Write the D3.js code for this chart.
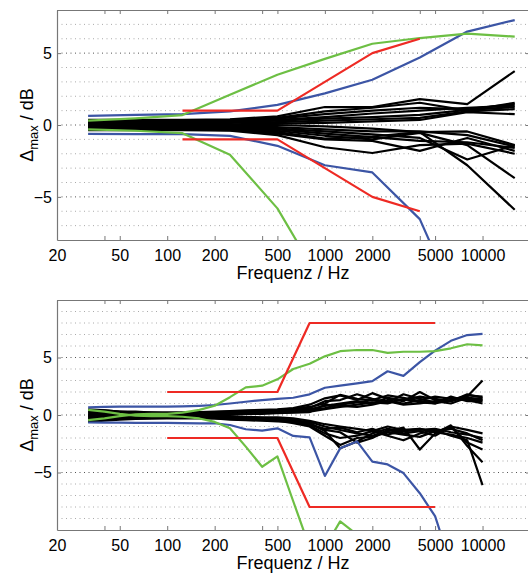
<!DOCTYPE html>
<html>
<head>
<meta charset="utf-8">
<script src="https://cdn.jsdelivr.net/npm/d3@7"></script>
<style>
  body { margin: 0; background: #fff; }
  text { font-family: "Liberation Sans", Arial, Helvetica, sans-serif; }
</style>
</head>
<body>
<svg id="chart" width="528" height="574"></svg>
<script>
// ---- data ----

// octave bands (upper panel)
var octFreqs = [31.5, 63, 125, 250, 500, 1000, 2000, 4000, 8000, 16000];
// third octave bands (lower panel)
var thirdFreqs = [31.5, 40, 50, 63, 80, 100, 125, 160, 200, 250, 315, 400, 500,
                  630, 800, 1000, 1250, 1600, 2000, 2500, 3150, 4000, 5000, 6300, 8000, 10000];

var xTickVals = [20, 40, 50, 100, 200, 400, 500, 1000, 2000, 4000, 5000, 10000];
var xLabelVals = [20, 50, 100, 200, 500, 1000, 2000, 5000, 10000];
var yLabelVals = [-5, 0, 5];

// upper panel: tolerance (red), blue, green
var redTopFreqs = [125, 250, 500, 1000, 2000, 4000];
var redTopUpper = [1, 1, 1, 3, 5, 6];
var redTopLower = [-1, -1, -1, -3, -5, -6];
var blueTopUpper = [0.64, 0.7, 0.76, 0.95, 1.4, 2.2, 3.15, 4.7, 6.5, 7.3];
var blueTopLower = [-0.62, -0.63, -0.64, -0.76, -1.45, -2.8, -3.3, -6.55, -14];
var greenTopUpper = [0.3, 0.46, 0.69, 2.1, 3.5, 4.6, 5.65, 6.05, 6.35, 6.15];
var greenTopLower = [-0.3, -0.4, -0.57, -2.07, -5.8, -11.4];

// upper panel: black curves
var blackTop = [
  [0.35, 0.35, 0.35, 0.4, 0.6, 1.25, 1.25, 1.8, 1.45, 3.75],
  [0.3, 0.3, 0.3, 0.35, 0.5, 0.95, 1.2, 1.55, 1.0, 1.55],
  [0.25, 0.25, 0.25, 0.3, 0.45, 0.75, 1.0, 1.2, 1.1, 1.45],
  [0.2, 0.2, 0.2, 0.25, 0.35, 0.55, 0.8, 1.0, 1.2, 1.35],
  [0.15, 0.15, 0.15, 0.2, 0.3, 0.45, 0.55, 0.7, 1.05, 1.25],
  [0.1, 0.1, 0.1, 0.15, 0.2, 0.3, 0.4, 0.5, 0.95, 1.1],
  [0.05, 0.05, 0.05, 0.05, 0.1, 0.15, 0.25, 0.35, 0.9, 0.75],
  [0, 0, 0, 0, 0, -0.1, -0.25, -0.5, -0.45, -1.4],
  [-0.05, -0.05, -0.05, -0.1, -0.15, -0.3, -0.45, -0.45, -0.7, -1.5],
  [-0.1, -0.1, -0.1, -0.15, -0.25, -0.45, -0.65, -0.9, -2.4, -1.4],
  [-0.15, -0.15, -0.15, -0.2, -0.3, -0.6, -0.85, -1.1, -1.2, -1.6],
  [-0.2, -0.2, -0.2, -0.25, -0.4, -0.75, -1.0, -0.55, -1.4, -3.7],
  [-0.25, -0.25, -0.25, -0.3, -0.5, -0.95, -0.8, -0.5, -2.8, -5.9],
  [-0.3, -0.3, -0.3, -0.35, -0.6, -1.0, -1.1, -1.8, -0.9, -1.8],
  [-0.35, -0.35, -0.35, -0.4, -0.7, -1.55, -1.95, -1.4, -1.3, -2.0]
];

// lower panel: tolerance (red), blue, green
var redBotFreqs = [100, 500, 800, 5000];
var redBotUpper = [2, 2, 8, 8];
var redBotLower = [-2, -2, -8, -8];
var blueBotUpper = [0.67, 0.7, 0.72, 0.72, 0.72, 0.72, 0.75, 0.8, 0.87, 1.0, 1.15, 1.3, 1.4,
                    1.5, 1.8, 2.37, 2.55, 2.75, 2.95, 3.8, 3.4, 4.6, 5.6, 6.45, 6.95, 7.05];
var blueBotLower = [-0.65, -0.67, -0.67, -0.68, -0.68, -0.68, -0.7, -0.72, -0.72, -0.87, -1.24, -1.36, -1.16,
                    -1.82, -1.94, -5.3, -2.9, -2.3, -4.05, -4.3, -5.05, -6.8, -8.8, -13];
var greenBotUpper = [-0.45, -0.3, -0.1, 0.05, 0.1, 0.1, 0.2, 0.45, 0.8, 1.55, 2.4, 2.55, 3.1,
                     4.0, 4.45, 5.1, 5.55, 5.65, 5.65, 5.4, 5.5, 5.5, 5.55, 5.8, 6.15, 6.05];
var greenBotLower = [0.45, 0.3, 0.1, -0.05, -0.1, -0.1, -0.15, -0.3, -0.6, -1.15, -2.75, -4.5, -3.6,
                     -7.5, -11.5, -11.5, -9.25, -10.4, -12];

// lower panel: black curves
var blackBot = [
  [0.5, 0.4, 0.3, 0.2, 0.2, 0.2, 0.2, 0.25, 0.3, 0.35, 0.4, 0.45, 0.5, 0.6, 0.9, 1.45, 1.7, 1.3, 1.9, 1.4, 1.2, 2.0, 1.3, 1.2, 1.6, 3.0],
  [0.4, 0.4, 0.3, 0.3, 0.2, 0.2, 0.2, 0.2, 0.25, 0.3, 0.35, 0.4, 0.45, 0.55, 0.7, 1.0, 1.75, 1.4, 1.3, 1.7, 1.5, 1.2, 1.0, 1.3, 1.7, 1.6],
  [0.3, 0.3, 0.25, 0.2, 0.2, 0.15, 0.15, 0.2, 0.2, 0.25, 0.3, 0.35, 0.4, 0.5, 0.6, 1.2, 1.3, 1.8, 1.4, 1.1, 1.8, 1.4, 1.1, 1.5, 1.4, 1.3],
  [0.2, 0.2, 0.2, 0.15, 0.15, 0.1, 0.1, 0.15, 0.15, 0.2, 0.25, 0.3, 0.35, 0.4, 0.5, 0.8, 1.0, 1.2, 1.0, 1.5, 1.3, 1.6, 1.4, 1.2, 1.8, 1.5],
  [0.1, 0.1, 0.1, 0.1, 0.1, 0.1, 0.1, 0.1, 0.1, 0.15, 0.2, 0.25, 0.3, 0.3, 0.4, 0.6, 0.9, 1.1, 1.3, 1.2, 1.0, 1.3, 1.6, 1.4, 1.3, 1.0],
  [0.0, 0.05, 0.05, 0.05, 0.05, 0.05, 0.05, 0.05, 0.1, 0.1, 0.15, 0.2, 0.2, 0.25, 0.3, 0.5, 0.7, 0.9, 1.1, 1.0, 1.4, 1.1, 1.0, 1.6, 1.2, 1.2],
  [-0.1, 0, 0, 0, 0, 0, 0, 0, 0.05, 0.05, 0.1, 0.1, 0.15, 0.2, 0.25, 0.9, 0.8, 0.7, 0.9, 1.2, 0.9, 1.0, 1.2, 1.0, 1.5, 1.4],
  [0.0, -0.05, -0.05, -0.05, -0.05, -0.05, -0.05, -0.05, -0.1, -0.1, -0.15, -0.2, -0.2, -0.3, -0.5, -0.8, -1.0, -1.2, -1.4, -1.0, -1.3, -1.2, -1.5, -1.0, -1.3, -1.6],
  [-0.1, -0.1, -0.1, -0.1, -0.1, -0.1, -0.1, -0.1, -0.15, -0.15, -0.2, -0.25, -0.3, -0.4, -0.7, -1.4, -2.9, -2.3, -1.6, -1.2, -1.4, -1.3, -1.2, -1.5, -1.7, -2.0],
  [-0.2, -0.2, -0.15, -0.15, -0.15, -0.1, -0.1, -0.15, -0.15, -0.2, -0.25, -0.3, -0.35, -0.5, -0.6, -1.0, -1.3, -1.6, -1.8, -1.4, -1.1, -3.0, -1.6, -0.9, -2.7, -4.1],
  [-0.3, -0.3, -0.25, -0.2, -0.2, -0.15, -0.15, -0.2, -0.2, -0.25, -0.3, -0.35, -0.4, -0.5, -0.8, -1.2, -1.1, -1.5, -1.2, -1.7, -1.4, -1.2, -1.5, -1.7, -2.0, -2.4],
  [-0.4, -0.35, -0.3, -0.3, -0.25, -0.2, -0.2, -0.2, -0.25, -0.3, -0.35, -0.4, -0.45, -0.6, -0.9, -1.6, -2.0, -1.8, -1.4, -1.8, -2.2, -1.6, -1.3, -1.8, -2.2, -6.1],
  [-0.5, -0.4, -0.35, -0.3, -0.3, -0.25, -0.25, -0.25, -0.3, -0.35, -0.4, -0.45, -0.5, -0.7, -1.0, -1.8, -2.6, -2.0, -1.9, -1.5, -1.7, -1.9, -1.4, -1.2, -1.6, -2.2],
  [-0.6, -0.5, -0.4, -0.35, -0.3, -0.3, -0.3, -0.3, -0.3, -0.4, -0.45, -0.5, -0.55, -0.6, -0.8, -1.3, -1.5, -2.4, -2.0, -1.3, -1.6, -1.4, -1.8, -1.0, -2.4, -3.0]
];

var RED = "#ee2a24", BLUE = "#3c55a5", GREEN = "#6dbf44";

// ---- drawing ----
var svg = d3.select("#chart");
var X0 = 57, X1 = 530;

var x = d3.scaleLog().domain([20, 20000]).range([X0, X1]);

function drawPanel(id, top, bottom, yLim, series) {
  var y = d3.scaleLinear().domain([-yLim, yLim]).range([bottom, top]);
  var g = svg.append("g");

  g.append("clipPath").attr("id", id)
    .append("rect").attr("x", X0).attr("y", top).attr("width", X1 - X0).attr("height", bottom - top);

  // dotted grid at every dB
  g.append("g").selectAll("line")
    .data(d3.range(-yLim + 1, yLim))
    .enter().append("line")
    .attr("x1", X0).attr("x2", X1)
    .attr("y1", function(d) { return y(d); })
    .attr("y2", function(d) { return y(d); })
    .attr("stroke", function(d) { return d % 5 === 0 ? "#555" : "#aaa"; })
    .attr("stroke-width", 1)
    .attr("stroke-dasharray", "1,3.5");

  var line = d3.line()
    .x(function(d) { return x(d[0]); })
    .y(function(d) { return y(d[1]); });

  var lines = g.append("g").attr("clip-path", "url(#" + id + ")");
  series.forEach(function(s) {
    lines.append("path")
      .datum(d3.zip(s.freqs, s.values))
      .attr("d", line)
      .attr("fill", "none")
      .attr("stroke", s.color)
      .attr("stroke-width", 2.2)
      .attr("stroke-linejoin", "round");
  });

  // axes (ticks pointing inward)
  var xb = d3.axisBottom(x).tickValues(xTickVals).tickSizeInner(-4).tickSizeOuter(0).tickPadding(10)
    .tickFormat(function(d) { return xLabelVals.indexOf(d) >= 0 ? d : ""; });
  var xt = d3.axisTop(x).tickValues(xTickVals).tickSizeInner(-4).tickSizeOuter(0).tickFormat("");
  var yl = d3.axisLeft(y).tickValues(yLabelVals).tickSizeInner(-4).tickSizeOuter(0).tickPadding(5);
  var yr = d3.axisRight(y).tickValues(yLabelVals).tickSizeInner(-4).tickSizeOuter(0).tickFormat("");

  g.append("g").attr("transform", "translate(0," + bottom + ")").call(xb);
  g.append("g").attr("transform", "translate(0," + top + ")").call(xt);
  g.append("g").attr("transform", "translate(" + X0 + ",0)").call(yl);
  g.append("g").attr("transform", "translate(" + X1 + ",0)").call(yr);

  g.selectAll(".domain").attr("stroke", "#777").attr("stroke-width", 1.2);
  g.selectAll(".tick line").attr("stroke", "#777");
  g.selectAll(".tick text").attr("font-size", 16).attr("fill", "#000")
    .attr("font-family", "Liberation Sans, Arial, sans-serif");

  // x label
  g.append("text")
    .attr("x", 293).attr("y", bottom + 39)
    .attr("text-anchor", "middle")
    .attr("font-size", 18)
    .text("Frequenz / Hz");

  // y label
  var yt = g.append("text")
    .attr("transform", "translate(33," + ((top + bottom) / 2) + ") rotate(-90)")
    .attr("text-anchor", "middle")
    .attr("font-size", 18);
  yt.append("tspan").text("\u0394");
  yt.append("tspan").attr("font-size", 13).attr("dy", 5).text("max");
  yt.append("tspan").attr("dy", -5).text(" / dB");
}

var topSeries = [];
blackTop.forEach(function(v) { topSeries.push({freqs: octFreqs, values: v, color: "#000"}); });
topSeries.push({freqs: octFreqs, values: blueTopUpper, color: BLUE});
topSeries.push({freqs: octFreqs, values: blueTopLower, color: BLUE});
topSeries.push({freqs: octFreqs, values: greenTopUpper, color: GREEN});
topSeries.push({freqs: octFreqs, values: greenTopLower, color: GREEN});
topSeries.push({freqs: redTopFreqs, values: redTopUpper, color: RED});
topSeries.push({freqs: redTopFreqs, values: redTopLower, color: RED});

var botSeries = [];
blackBot.forEach(function(v) { botSeries.push({freqs: thirdFreqs, values: v, color: "#000"}); });
botSeries.push({freqs: thirdFreqs, values: blueBotUpper, color: BLUE});
botSeries.push({freqs: thirdFreqs, values: blueBotLower, color: BLUE});
botSeries.push({freqs: thirdFreqs, values: greenBotUpper, color: GREEN});
botSeries.push({freqs: thirdFreqs, values: greenBotLower, color: GREEN});
botSeries.push({freqs: redBotFreqs, values: redBotUpper, color: RED});
botSeries.push({freqs: redBotFreqs, values: redBotLower, color: RED});

drawPanel("clipTop", 10, 240, 8, topSeries);
drawPanel("clipBot", 300, 530, 10, botSeries);
</script>
</body>
</html>
